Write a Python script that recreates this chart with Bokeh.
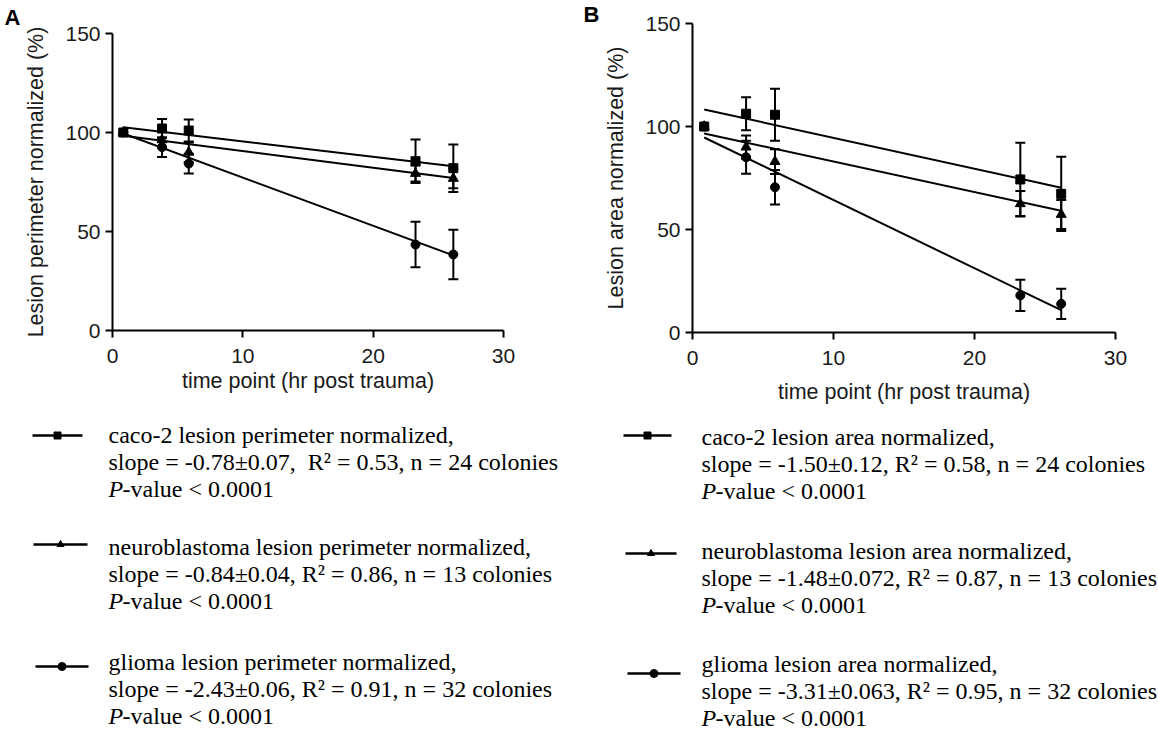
from bokeh.plotting import figure
from bokeh.models import Range1d, Whisker, ColumnDataSource, FixedTicker, TeeHead
from bokeh.layouts import row, column
from bokeh.embed import file_html
from bokeh.resources import INLINE
from bokeh.core.properties import value

# ---------------- data ----------------
times = [0.83, 3.8, 5.85, 23.25, 26.15]
x_ticks = [0, 10, 20, 30]
y_ticks = [0, 50, 100, 150]

# Panel A: lesion perimeter normalized (%)
perim_caco = [100, 102.0, 101.0, 85.5, 82.0]
perim_caco_err = [0, 4.8, 5.6, 11.0, 12.0]
perim_neuro = [100, 96.3, 90.0, 79.3, 76.8]
perim_neuro_err = [0, 4.0, 5.0, 4.0, 5.0]
perim_glioma = [100, 92.6, 84.3, 43.4, 38.4]
perim_glioma_err = [0, 5.0, 5.0, 11.5, 12.5]
perim_slope = [-0.78, -0.84, -2.43]
perim_intercept = [103.3, 99.0, 101.5]

# Panel B: lesion area normalized (%)
area_caco = [100, 106.2, 105.7, 74.3, 67.3]
area_caco_err = [0, 8.0, 12.6, 17.8, 18.0]
area_neuro = [100, 90.0, 83.0, 62.5, 57.3]
area_neuro_err = [0, 5.6, 6.0, 6.2, 7.0]
area_glioma = [100, 85.1, 70.5, 18.0, 13.9]
area_glioma_err = [0, 8.0, 8.4, 7.6, 7.3]
area_slope = [-1.50, -1.48, -3.31]
area_intercept = [109.5, 97.8, 97.4]

x_label = "time point (hr post trauma)"
y_label_a = "Lesion perimeter normalized (%)"
y_label_b = "Lesion area normalized (%)"

legend_names_a = ["caco-2 lesion perimeter normalized,",
                  "neuroblastoma lesion perimeter normalized,",
                  "glioma lesion perimeter normalized,"]
legend_stats_a = ["slope = -0.78\u00b10.07,\u00a0 R\u00b2 = 0.53, n = 24 colonies",
                  "slope = -0.84\u00b10.04, R\u00b2 = 0.86, n = 13 colonies",
                  "slope = -2.43\u00b10.06, R\u00b2 = 0.91, n = 32 colonies"]
legend_names_b = ["caco-2 lesion area normalized,",
                  "neuroblastoma lesion area normalized,",
                  "glioma lesion area normalized,"]
legend_stats_b = ["slope = -1.50\u00b10.12, R\u00b2 = 0.58, n = 24 colonies",
                  "slope = -1.48\u00b10.072, R\u00b2 = 0.87, n = 13 colonies",
                  "slope = -3.31\u00b10.063, R\u00b2 = 0.95, n = 32 colonies"]
p_italic = "P"
p_rest = "-value < 0.0001"
panel_letters = ["A", "B"]

markers = ["square", "triangle", "circle"]
marker_sizes = [9, 10, 9]

SANS = "Liberation Sans"
SERIF = "Liberation Serif"
PLOT_H = 420
LEG_H = 316


def style_axes(p, xlab_standoff):
    p.xaxis.ticker = FixedTicker(ticks=x_ticks)
    p.yaxis.ticker = FixedTicker(ticks=y_ticks)
    p.grid.visible = False
    p.outline_line_color = None
    for ax in (p.xaxis, p.yaxis):
        ax.axis_line_width = 2
        ax.axis_line_color = "black"
        ax.major_tick_line_width = 2
        ax.major_tick_line_color = "black"
        ax.major_tick_out = 7
        ax.major_tick_in = 0
        ax.minor_tick_line_color = None
        ax.major_label_text_font = SANS
        ax.major_label_text_font_size = "21px"
        ax.major_label_text_color = "#1a1a1a"
        ax.axis_label_text_font = SANS
        ax.axis_label_text_font_size = "21.5px"
        ax.axis_label_text_font_style = "normal"
        ax.axis_label_text_color = "#1a1a1a"
    p.xaxis.major_label_standoff = 11
    p.yaxis.major_label_standoff = 5
    p.xaxis.axis_label_standoff = xlab_standoff
    p.yaxis.axis_label_standoff = 14


def make_letter(width, letter, lx, ly):
    f = figure(width=width, height=PLOT_H, x_range=Range1d(0, width), y_range=Range1d(PLOT_H, 0),
               output_backend="svg", toolbar_location=None, min_border=0, title=None,
               x_axis_location=None, y_axis_location=None, sizing_mode="fixed")
    f.grid.visible = False
    f.outline_line_color = None
    f.text(x=[lx], y=[ly], text=[letter], text_font=value(SANS), text_font_style="bold",
           text_font_size=value("22px"), text_baseline="alphabetic", text_align="left",
           text_color="black")
    return f


def make_panel(width, borders, ylab, series, errs, slopes, intercepts, xlab_standoff):
    left, right, top, bottom = borders
    p = figure(width=width, height=PLOT_H, x_range=Range1d(0, 30), y_range=Range1d(0, 150),
               output_backend="svg", toolbar_location=None, title=None, sizing_mode="fixed",
               min_border_left=left, min_border_right=right,
               min_border_top=top, min_border_bottom=bottom,
               x_axis_label=x_label, y_axis_label=ylab)
    p.background_fill_color = "white"
    style_axes(p, xlab_standoff)
    # regression lines
    t0, t1 = times[0], times[-1]
    p.segment(x0=[t0] * 3, x1=[t1] * 3,
              y0=[b + m * t0 for m, b in zip(slopes, intercepts)],
              y1=[b + m * t1 for m, b in zip(slopes, intercepts)],
              line_color="black", line_width=2)
    # series drawn glioma, neuro, caco (caco on top)
    for idx in [2, 1, 0]:
        vals = series[idx]
        err = errs[idx]
        src = ColumnDataSource(dict(
            x=times[1:], y=vals[1:],
            upper=[v + e for v, e in zip(vals[1:], err[1:])],
            lower=[v - e for v, e in zip(vals[1:], err[1:])]))
        w = Whisker(source=src, base="x", upper="upper", lower="lower", dimension="height",
                    line_width=2, line_color="black",
                    upper_head=TeeHead(size=10, line_width=2, line_color="black"),
                    lower_head=TeeHead(size=10, line_width=2, line_color="black"))
        p.add_layout(w)
        p.scatter(x=times, y=vals, marker=markers[idx], size=marker_sizes[idx],
                  fill_color="black", line_color="black")
    return p


def make_legend(width, xr, names, stats, text_x, text_y, samp_x0, samp_x1, samp_y):
    lg = figure(width=width, height=LEG_H, x_range=Range1d(*xr), y_range=Range1d(736, PLOT_H),
                output_backend="svg", toolbar_location=None, min_border=0, title=None,
                x_axis_location=None, y_axis_location=None, sizing_mode="fixed")
    lg.grid.visible = False
    lg.outline_line_color = None
    gap = 27
    lg.segment(x0=samp_x0, x1=samp_x1, y0=samp_y, y1=samp_y, line_color="black", line_width=2.5)
    for i in range(3):
        lg.scatter(x=[(samp_x0[i] + samp_x1[i]) / 2], y=[samp_y[i]], marker=markers[i],
                   size=7 if i < 2 else 8, fill_color="black", line_color="black")
    xs = [text_x] * 3
    common = dict(text_font=value(SERIF), text_font_size=value("24px"),
                  text_baseline="middle", text_align="left", text_color="black")
    lg.text(x=xs, y=text_y, text=names, **common)
    lg.text(x=xs, y=[y + gap for y in text_y], text=stats, **common)
    lg.text(x=xs, y=[y + 2 * gap for y in text_y], text=[p_italic] * 3,
            text_font_style="italic", **common)
    lg.text(x=[x + 14 for x in xs], y=[y + 2 * gap for y in text_y], text=[p_rest] * 3, **common)
    return lg


letA = make_letter(21, panel_letters[0], 4, 17)
pA = make_panel(562, (83, 80, 33, PLOT_H - 330), y_label_a,
                [perim_caco, perim_neuro, perim_glioma],
                [perim_caco_err, perim_neuro_err, perim_glioma_err],
                perim_slope, perim_intercept, 3)
letB = make_letter(18, panel_letters[1], 0, 14)
pB = make_panel(557, (84, 43, 23, PLOT_H - 332), y_label_b,
                [area_caco, area_neuro, area_glioma],
                [area_caco_err, area_neuro_err, area_glioma_err],
                area_slope, area_intercept, 12)

lA = make_legend(583, (0, 583), legend_names_a, legend_stats_a, 108, [434, 546, 661],
                 [32, 33, 35], [82, 87, 88], [435, 544, 666])
lB = make_legend(575, (583, 1158), legend_names_b, legend_stats_b, 701, [436, 550, 663],
                 [623, 625, 627], [671, 676, 680], [435, 553, 673])

# each plot wrapped in its own column so the row does not align their frames
top_row = row(column(letA), column(pA), column(letB), column(pB))
bottom_row = row(column(lA), column(lB))
open("out.html", "w").write(file_html([top_row, bottom_row], INLINE))
